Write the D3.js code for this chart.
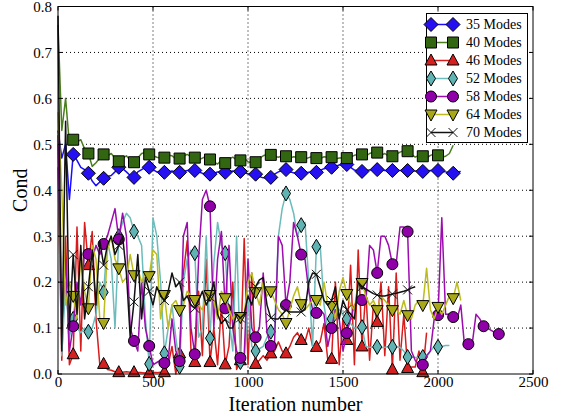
<!DOCTYPE html>
<html>
<head>
<meta charset="utf-8">
<script src="https://cdn.jsdelivr.net/npm/d3@7"></script>
<style>
  body { margin: 0; background: #fff; }
  svg { display: block; font-family: 'Liberation Serif', 'DejaVu Serif', serif; }
</style>
</head>
<body>
<svg></svg>
<script>
// one value every 20 iterations, starting at iteration 0
let step = 20
let markEvery = 4

let modes35 = [0.53,0.47,0.50,0.38,0.478,0.465,0.45,0.445,0.437,0.42,0.41,0.418,0.426,0.43,0.432,0.44,0.45,0.447,0.44,0.432,
  0.428,0.44,0.445,0.45,0.45,0.445,0.44,0.44,0.439,0.44,0.442,0.44,0.439,0.441,0.443,0.444,0.443,0.44,0.437,0.436,
  0.435,0.437,0.44,0.44,0.439,0.441,0.442,0.44,0.441,0.438,0.436,0.435,0.435,0.43,0.427,0.427,0.428,0.435,0.44,0.443,
  0.445,0.44,0.438,0.437,0.437,0.438,0.439,0.439,0.439,0.443,0.447,0.449,0.45,0.452,0.455,0.456,0.456,0.45,0.444,0.442,
  0.441,0.443,0.444,0.445,0.445,0.444,0.443,0.443,0.443,0.443,0.443,0.443,0.443,0.442,0.442,0.441,0.441,0.442,0.443,0.443,
  0.443,0.441,0.44,0.438,0.437,0.44,0.441]

let modes40 = [0.76,0.53,0.60,0.50,0.51,0.505,0.51,0.49,0.48,0.452,0.46,0.47,0.478,0.475,0.48,0.47,0.463,0.47,0.475,0.465,
  0.461,0.47,0.48,0.482,0.478,0.475,0.472,0.47,0.471,0.476,0.475,0.468,0.469,0.474,0.478,0.473,0.471,0.466,0.47,0.474,
  0.467,0.462,0.457,0.465,0.459,0.468,0.472,0.466,0.465,0.47,0.462,0.46,0.461,0.47,0.475,0.478,0.477,0.474,0.472,0.475,
  0.474,0.47,0.473,0.472,0.472,0.468,0.471,0.474,0.47,0.469,0.473,0.472,0.472,0.468,0.47,0.471,0.47,0.472,0.476,0.478,
  0.478,0.474,0.48,0.483,0.482,0.476,0.48,0.474,0.474,0.478,0.483,0.486,0.485,0.478,0.472,0.476,0.474,0.47,0.476,0.479,
  0.476,0.472,0.474,0.48,0.498]

let modes46 = [0.45,0.03,0.30,0.02,0.043,0.32,0.05,0.33,0.237,0.31,0.12,0.02,0.022,0.01,0.008,0.005,0.004,0.004,0.005,0.004,
  0.004,0.003,0.003,0.002,0.002,0.003,0.003,0.004,0.004,0.02,0.06,0.0,0.045,0.22,0.29,0.05,0.026,0.18,0.04,0.25,
  0.026,0.10,0.02,0.15,0.021,0.06,0.20,0.01,0.03,0.295,0.02,0.22,0.022,0.03,0.04,0.03,0.045,0.05,0.07,0.05,
  0.045,0.06,0.08,0.09,0.074,0.07,0.10,0.06,0.059,0.07,0.11,0.03,0.033,0.20,0.02,0.12,0.074,0.237,0.02,0.27,
  0.06,0.18,0.03,0.15,0.113,0.20,0.04,0.19,0.01,0.22,0.03,0.13,0.013,0.015,0.015,0.05,0.004,0.09]

let modes52 = [0.50,0.04,0.20,0.08,0.12,0.10,0.09,0.10,0.092,0.10,0.13,0.20,0.178,0.29,0.25,0.10,0.30,0.33,0.35,0.34,
  0.31,0.30,0.28,0.12,0.022,0.34,0.30,0.20,0.045,0.10,0.15,0.08,0.016,0.20,0.25,0.27,0.263,0.08,0.10,0.30,
  0.078,0.24,0.33,0.28,0.263,0.12,0.05,0.30,0.026,0.03,0.16,0.06,0.05,0.055,0.06,0.08,0.092,0.10,0.30,0.36,
  0.393,0.38,0.35,0.30,0.324,0.33,0.20,0.06,0.277,0.28,0.15,0.10,0.12,0.15,0.14,0.13,0.12,0.11,0.10,0.10,
  0.102,0.06,0.058,0.058,0.059,0.057,0.058,0.06,0.059,0.059,0.058,0.05,0.037,0.037,0.036,0.036,0.037,0.037,0.05,0.06,
  0.059,0.06,0.062,0.062]

let modes58 = [0.52,0.10,0.25,0.05,0.104,0.20,0.15,0.27,0.261,0.25,0.28,0.26,0.283,0.30,0.33,0.36,0.293,0.35,0.30,0.10,
  0.072,0.05,0.20,0.10,0.061,0.02,0.025,0.03,0.024,0.03,0.12,0.05,0.028,0.30,0.33,0.10,0.043,0.25,0.38,0.40,
  0.365,0.10,0.25,0.31,0.143,0.28,0.10,0.05,0.035,0.04,0.25,0.10,0.08,0.10,0.22,0.09,0.061,0.07,0.30,0.28,
  0.15,0.20,0.33,0.30,0.26,0.25,0.18,0.14,0.133,0.14,0.13,0.06,0.10,0.14,0.12,0.05,0.089,0.12,0.15,0.16,
  0.161,0.155,0.28,0.27,0.22,0.30,0.30,0.28,0.239,0.24,0.32,0.32,0.31,0.05,0.03,0.02,0.02,0.04,0.05,0.12,
  0.128,0.34,0.13,0.13,0.124,0.12,0.15,0.06,0.065,0.065,0.13,0.12,0.104,0.10,0.095,0.09,0.087,0.086]

let modes64 = [0.57,0.40,0.15,0.20,0.17,0.12,0.26,0.18,0.143,0.28,0.25,0.12,0.111,0.27,0.30,0.25,0.23,0.20,0.21,0.26,
  0.215,0.23,0.20,0.22,0.213,0.27,0.26,0.12,0.172,0.10,0.15,0.16,0.139,0.15,0.18,0.17,0.161,0.15,0.14,0.17,
  0.172,0.16,0.12,0.18,0.165,0.14,0.12,0.13,0.124,0.13,0.20,0.22,0.178,0.15,0.20,0.17,0.18,0.16,0.14,0.13,
  0.111,0.14,0.17,0.19,0.152,0.14,0.15,0.16,0.161,0.15,0.20,0.15,0.148,0.12,0.18,0.21,0.174,0.15,0.14,0.20,
  0.198,0.17,0.15,0.16,0.139,0.17,0.16,0.15,0.139,0.14,0.13,0.16,0.128,0.12,0.15,0.16,0.15,0.23,0.14,0.12,
  0.146,0.13,0.15,0.17,0.165,0.20,0.16]

let modes70 = [0.78,0.05,0.55,0.10,0.26,0.13,0.28,0.12,0.19,0.27,0.15,0.29,0.237,0.28,0.30,0.26,0.28,0.30,0.22,0.08,
  0.157,0.26,0.12,0.21,0.18,0.15,0.19,0.17,0.16,0.18,0.22,0.19,0.20,0.16,0.17,0.15,0.143,0.16,0.18,0.15,
  0.168,0.20,0.13,0.11,0.12,0.10,0.10,0.13,0.122,0.13,0.17,0.15,0.19,0.205,0.21,0.15,0.122,0.12,0.12,0.13,
  0.139,0.135,0.135,0.135,0.135,0.14,0.20,0.22,0.217,0.19,0.16,0.15,0.16,0.19,0.12,0.16,0.14,0.13,0.12,0.20,
  0.19,0.185,0.18,0.175,0.172,0.17,0.17,0.172,0.174,0.176,0.178,0.18,0.183,0.187,0.19]

let labels = ['35 Modes', '40 Modes', '46 Modes', '52 Modes', '58 Modes', '64 Modes', '70 Modes']
let xTicks = [0, 500, 1000, 1500, 2000, 2500]
let yTicks = [0.0, 0.1, 0.2, 0.3, 0.4, 0.5, 0.6, 0.7, 0.8]

let width = 561
let height = 416
let plotLeft = 58
let plotRight = 533
let plotTop = 6.5
let plotBottom = 374

let shapes = {
  diamond: 'M0,-7L7,0L0,7L-7,0Z',
  square: 'M-5.5,-5.5L5.5,-5.5L5.5,5.5L-5.5,5.5Z',
  triUp: 'M0,-6.5L6,4.5L-6,4.5Z',
  thinDiamond: 'M0,-7.5L4.5,0L0,7.5L-4.5,0Z',
  circle: 'M5.5,0A5.5,5.5 0 1,1 -5.5,0A5.5,5.5 0 1,1 5.5,0Z',
  triDown: 'M0,6.5L6,-4.5L-6,-4.5Z',
  cross: 'M-4.5,-4.5L4.5,4.5M-4.5,4.5L4.5,-4.5'
}

let series = [
  { values: modes35, line: '#1a0dff', fill: '#2410f0', shape: 'diamond' },
  { values: modes40, line: '#4a7d1e', fill: '#336611', shape: 'square' },
  { values: modes46, line: '#d81c1c', fill: '#d42020', shape: 'triUp' },
  { values: modes52, line: '#6cbcbc', fill: '#5fb3b3', shape: 'thinDiamond' },
  { values: modes58, line: '#9c0cae', fill: '#9000a8', shape: 'circle' },
  { values: modes64, line: '#bcbc1e', fill: '#a8a818', shape: 'triDown' },
  { values: modes70, line: '#111111', fill: 'none', shape: 'cross' }
]

let svg = d3.select('svg')
svg.attr('width', width).attr('height', height)

let xScale = d3.scaleLinear().domain([0, 2500]).range([plotLeft, plotRight])
let yScale = d3.scaleLinear().domain([0, 0.8]).range([plotBottom, plotTop])

let drawGrid = () => {
  let g = svg.append('g')
  g.selectAll('.vg')
    .data(xTicks.slice(1, -1))
    .enter()
    .append('line')
    .attr('x1', d => xScale(d)).attr('x2', d => xScale(d))
    .attr('y1', plotTop).attr('y2', plotBottom)
  g.selectAll('.hg')
    .data(yTicks.slice(1, -1))
    .enter()
    .append('line')
    .attr('x1', plotLeft).attr('x2', plotRight)
    .attr('y1', d => yScale(d)).attr('y2', d => yScale(d))
  g.selectAll('line')
    .attr('stroke', '#000')
    .attr('stroke-width', 1)
    .attr('stroke-dasharray', '1,3')
}

let drawMarker = (g, s, x, y) => {
  g.append('path')
    .attr('d', shapes[s.shape])
    .attr('transform', 'translate(' + x + ',' + y + ')')
    .attr('fill', s.fill)
    .attr('stroke', s.shape == 'cross' ? s.line : '#000')
    .attr('stroke-width', 1)
}

let drawSeries = () => {
  let plot = svg.append('g')
  let line = d3.line()
    .x((d, i) => xScale(i * step))
    .y(d => yScale(d))

  series.forEach(s => {
    let g = plot.append('g')
    g.append('path')
      .datum(s.values)
      .attr('d', line)
      .attr('fill', 'none')
      .attr('stroke', s.line)
      .attr('stroke-width', 1.5)
      .attr('stroke-linejoin', 'round')
    s.values.forEach((v, i) => {
      if (i > 0 && i % markEvery == 0 && i < s.values.length - 1) {
        drawMarker(g, s, xScale(i * step), yScale(v))
      }
    })
  })
}

let drawAxes = () => {
  let xAxis = d3.axisBottom(xScale).tickValues(xTicks).tickSize(0).tickPadding(2).tickFormat(d3.format('d'))
  let yAxis = d3.axisLeft(yScale).tickValues(yTicks).tickSize(0).tickPadding(6).tickFormat(d3.format('.1f'))

  let gx = svg.append('g').attr('transform', 'translate(0,' + plotBottom + ')').call(xAxis)
  let gy = svg.append('g').attr('transform', 'translate(' + plotLeft + ',0)').call(yAxis)
  gx.select('.domain').remove()
  gy.select('.domain').remove()
  svg.selectAll('.tick text')
    .attr('font-family', "'Liberation Serif', serif")
    .attr('font-size', 15)
    .attr('fill', '#000')

  // inward ticks on all four sides
  let t = svg.append('g').attr('stroke', '#000').attr('stroke-width', 1)
  xTicks.forEach(d => {
    t.append('line').attr('x1', xScale(d)).attr('x2', xScale(d)).attr('y1', plotBottom).attr('y2', plotBottom - 4)
    t.append('line').attr('x1', xScale(d)).attr('x2', xScale(d)).attr('y1', plotTop).attr('y2', plotTop + 4)
  })
  yTicks.forEach(d => {
    t.append('line').attr('x1', plotLeft).attr('x2', plotLeft + 4).attr('y1', yScale(d)).attr('y2', yScale(d))
    t.append('line').attr('x1', plotRight).attr('x2', plotRight - 4).attr('y1', yScale(d)).attr('y2', yScale(d))
  })

  svg.append('rect')
    .attr('x', plotLeft).attr('y', plotTop)
    .attr('width', plotRight - plotLeft).attr('height', plotBottom - plotTop)
    .attr('fill', 'none').attr('stroke', '#000').attr('stroke-width', 1)

  svg.append('text')
    .attr('x', (plotLeft + plotRight) / 2)
    .attr('y', 411)
    .attr('text-anchor', 'middle')
    .attr('font-size', 20)
    .text('Iteration number')

  svg.append('text')
    .attr('transform', 'translate(27,' + (plotTop + plotBottom) / 2 + ') rotate(-90)')
    .attr('text-anchor', 'middle')
    .attr('font-size', 20)
    .text('Cond')
}

let drawLegend = () => {
  let g = svg.append('g')
  g.append('rect')
    .attr('x', 426.5).attr('y', 13.5)
    .attr('width', 101).attr('height', 129)
    .attr('fill', '#fff').attr('stroke', '#000').attr('stroke-width', 1)
  series.forEach((s, i) => {
    let y = 24.5 + i * 18
    g.append('line')
      .attr('x1', 431).attr('x2', 453)
      .attr('y1', y).attr('y2', y)
      .attr('stroke', s.line).attr('stroke-width', 1.5)
    drawMarker(g, s, 431, y)
    drawMarker(g, s, 453, y)
    g.append('text')
      .attr('x', 466)
      .attr('y', y + 4.5)
      .attr('font-size', 14)
      .text(labels[i])
  })
}

drawGrid()
drawSeries()
drawAxes()
drawLegend()
</script>
</body>
</html>
